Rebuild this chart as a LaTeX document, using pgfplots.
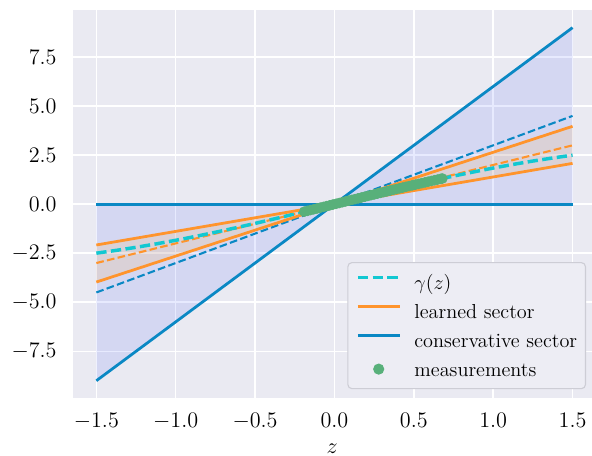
\RequirePackage{fix-cm}
\documentclass[border=0pt]{standalone}
\usepackage{fontspec}
\usepackage{pgfplots}
\pgfplotsset{compat=1.18}
\definecolor{bg}{RGB}{234,234,242}
\definecolor{consblue}{RGB}{10,136,196}
\definecolor{lorange}{RGB}{255,148,44}
\definecolor{gcyan}{RGB}{18,200,210}
\definecolor{mgreen}{RGB}{88,176,122}
\definecolor{consfillc}{RGB}{59,84,250}
\definecolor{learnfillc}{RGB}{255,176,63}
\definecolor{legfill}{RGB}{237,237,244}
\definecolor{legdraw}{RGB}{205,205,213}
\pgfplotsset{
  lineleg/.style={legend image code/.code={\draw[##1] (0pt,3.5pt) -- (30pt,3.5pt);}},
  markleg/.style={legend image code/.code={\draw[##1] plot coordinates {(15pt,0pt)};}},
}
\begin{document}
\begin{tikzpicture}
\begin{axis}[
  scale only axis, width=374.5pt, height=280pt,
  xmin=-1.65, xmax=1.6226, ymin=-9.9, ymax=9.9,
  axis background/.style={fill=bg},
  axis line style={draw=none},
  major tick length=0pt,
  xmajorgrids, ymajorgrids,
  grid style={white, line width=1.1pt},
  xtick={-1.5,-1,-0.5,0,0.5,1,1.5},
  ytick={-7.5,-5,-2.5,0,2.5,5,7.5},
  /pgf/number format/fixed,
  /pgf/number format/fixed zerofill,
  /pgf/number format/precision=1,
  tick label style={font=\fontsize{16}{19}\selectfont},
  xticklabel style={yshift=-7pt},
  yticklabel style={xshift=-8pt},
  label style={font=\fontsize{16}{19}\selectfont},
  xlabel={$z$},
  xlabel style={yshift=-3.5pt},
  legend cell align=left,
  legend style={
    at={(rel axis cs:1,0)}, anchor=south east, xshift=-4.3pt, yshift=6.6pt,
    fill=legfill, draw=legdraw, line width=0.8pt, rounded corners=3pt,
    font=\fontsize{14.6}{17}\selectfont,
    inner xsep=6pt, inner ysep=7.6pt,
    row sep=7.9pt,
    nodes={inner sep=0pt, text height=12pt, text depth=1pt},
    /tikz/every odd column/.append style={column sep=9.5pt},
  },
]
% conservative sector fill
\addplot[forget plot, draw=none, fill=consfillc, fill opacity=0.12]
  coordinates {(-1.5,0) (1.5,0) (1.5,9) (-1.5,-9)} -- cycle;
% learned sector fill
\addplot[forget plot, draw=none, fill=learnfillc, fill opacity=0.15]
  coordinates {(-1.5,-3.97) (1.5,3.97) (1.5,2.08) (-1.5,-2.08)} -- cycle;
% dashed reference lines
\addplot[forget plot, consblue, line width=1.5pt, dash pattern=on 5.5pt off 2.4pt]
  coordinates {(-1.5,-4.5) (1.5,4.5)};
\addplot[forget plot, lorange, line width=1.5pt, dash pattern=on 5.5pt off 2.4pt]
  coordinates {(-1.5,-3.0) (1.5,3.0)};
% gamma(z)
\addplot[gcyan, line width=2.5pt, dash pattern=on 7.4pt off 3.2pt, lineleg]
  coordinates {
  (-1.5,-2.4975) (-1.375,-2.3559) (-1.25,-2.1990) (-1.125,-2.0273)
  (-1.0,-1.8415) (-0.875,-1.6425) (-0.75,-1.4316) (-0.625,-1.2101)
  (-0.5,-0.9794) (-0.375,-0.7413) (-0.25,-0.4974) (-0.125,-0.2497)
  (0,0) (0.125,0.2497) (0.25,0.4974) (0.375,0.7413) (0.5,0.9794)
  (0.625,1.2101) (0.75,1.4316) (0.875,1.6425) (1.0,1.8415)
  (1.125,2.0273) (1.25,2.1990) (1.375,2.3559) (1.5,2.4975)};
\addlegendentry{$\gamma(z)$}
% learned sector
\addplot[lorange, line width=2pt, lineleg]
  coordinates {(-1.5,-3.97) (1.5,3.97)};
\addlegendentry{learned sector}
\addplot[forget plot, lorange, line width=2pt]
  coordinates {(-1.5,-2.08) (1.5,2.08)};
% conservative sector
\addplot[consblue, line width=2pt, lineleg]
  coordinates {(-1.5,-9) (1.5,9)};
\addlegendentry{conservative sector}
\addplot[forget plot, consblue, line width=2pt]
  coordinates {(-1.5,0) (1.5,0)};
% measurements
\addplot[only marks, mark=*, mark size=3.6pt, color=mgreen, mark options={draw=none, fill=mgreen}, markleg]
  coordinates {
  (-0.19,-0.3789) (-0.17,-0.3392) (-0.15,-0.2994) (-0.13,-0.2596)
  (-0.11,-0.2198) (-0.09,-0.1799) (-0.07,-0.1399) (-0.05,-0.1000)
  (-0.03,-0.0600) (-0.01,-0.0200) (0.01,0.0200) (0.03,0.0600)
  (0.05,0.1000) (0.07,0.1399) (0.09,0.1799) (0.11,0.2198)
  (0.13,0.2596) (0.15,0.2994) (0.17,0.3392) (0.19,0.3789)
  (0.21,0.4185) (0.23,0.4580) (0.25,0.4974) (0.27,0.5367)
  (0.29,0.5760) (0.31,0.6151) (0.33,0.6540) (0.35,0.6929)
  (0.37,0.7316) (0.39,0.7702) (0.41,0.8086) (0.43,0.8469)
  (0.45,0.8850) (0.47,0.9229) (0.49,0.9606) (0.51,0.9982)
  (0.53,1.0355) (0.55,1.0727) (0.57,1.1096) (0.59,1.1464)
  (0.61,1.1829) (0.63,1.2191) (0.65,1.2552) (0.67,1.2910) (0.68,1.3088)};
\addlegendentry{measurements}
\end{axis}
\pgfresetboundingbox
\path ([xshift=-52.3pt, yshift=-41pt]current axis.south west) rectangle ([yshift=7.2pt]current axis.north east);
\end{tikzpicture}
\end{document}
